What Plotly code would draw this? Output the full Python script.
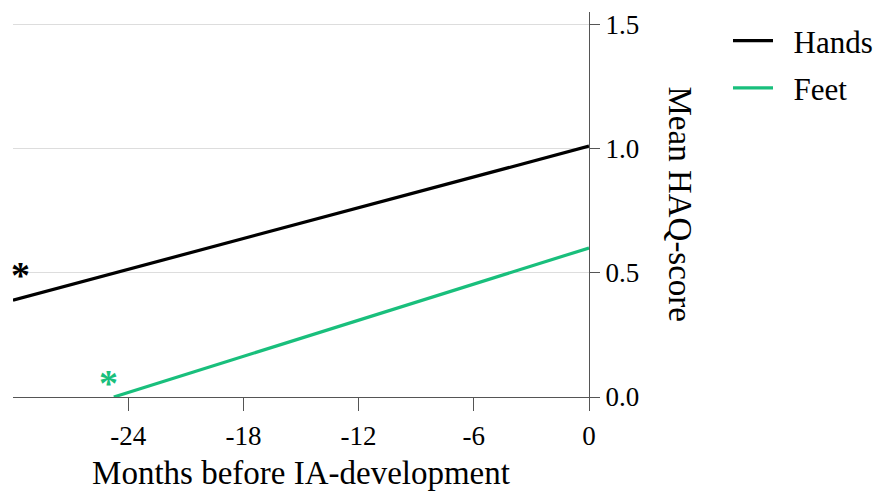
import plotly.graph_objects as go

# Data
series_names = ["\u2002Hands", "\u2002Feet"]
hands_x = [-30, 0]
hands_y = [0.39, 1.01]
feet_x = [-24.75, 0]
feet_y = [0.0, 0.60]
colors = ["#000000", "#19bf7c"]
star_x = [-29.6, -25.05]
star_y = [0.49, 0.055]
x_ticks = [-24, -18, -12, -6, 0]
y_ticks = [0.0, 0.5, 1.0, 1.5]
y_tick_labels = ["0.0", "0.5", "1.0", "1.5"]

FONT = "Liberation Serif, Times New Roman, serif"

fig = go.Figure()
fig.add_trace(go.Scatter(x=hands_x, y=hands_y, mode="lines", name=series_names[0],
                         line=dict(color=colors[0], width=3.2), legendgroup="a"))
fig.add_trace(go.Scatter(x=feet_x, y=feet_y, mode="lines", name=series_names[1],
                         line=dict(color=colors[1], width=3.2), legendgroup="b"))

for sx, sy, c in zip(star_x, star_y, colors):
    fig.add_annotation(x=sx, y=sy, text="<b>*</b>", showarrow=False, xref="x", yref="y",
                       font=dict(family=FONT, size=38, color=c),
                       xanchor="center", yanchor="middle")

fig.add_annotation(x=1, xref="paper", xshift=91, y=0.5, yref="paper", yshift=0,
                   text="Mean HAQ-score", textangle=90, showarrow=False,
                   font=dict(family=FONT, size=33, color="#000"),
                   xanchor="center", yanchor="middle")

fig.update_layout(
    width=877, height=491,
    margin=dict(l=13, r=288, t=12, b=94, autoexpand=False),
    paper_bgcolor="white", plot_bgcolor="white",
    font=dict(family=FONT, color="#000"),
    showlegend=True,
    legend=dict(x=728 / 877, xref="container", xanchor="left",
                y=1 - 14 / 491, yref="container", yanchor="top",
                font=dict(family=FONT, size=31, color="#000"),
                itemwidth=40,
                tracegroupgap=4, bgcolor="rgba(0,0,0,0)"),
    xaxis=dict(range=[-30, 0], tickvals=x_ticks, ticktext=[str(v) for v in x_ticks],
               showgrid=False, zeroline=False, showline=True, linecolor="#555",
               linewidth=1, ticks="outside", ticklen=13, tickcolor="#555",
               ticklabelstandoff=2, automargin=False,
               tickfont=dict(family=FONT, size=27, color="#000"),
               title=dict(text="Months before IA-development", standoff=20,
                          font=dict(family=FONT, size=33, color="#000"))),
    yaxis=dict(range=[0, 1.55], side="right", tickvals=y_ticks, ticktext=y_tick_labels,
               showgrid=True, gridcolor="#dddddd", gridwidth=1, zeroline=False,
               showline=True, linecolor="#555", linewidth=1, ticks="outside",
               ticklen=10, tickcolor="#555", automargin=False,
               tickfont=dict(family=FONT, size=27, color="#000")),
)

fig.write_html("out.html", config={"displayModeBar": False},
               post_script="document.body.style.margin='0';")
